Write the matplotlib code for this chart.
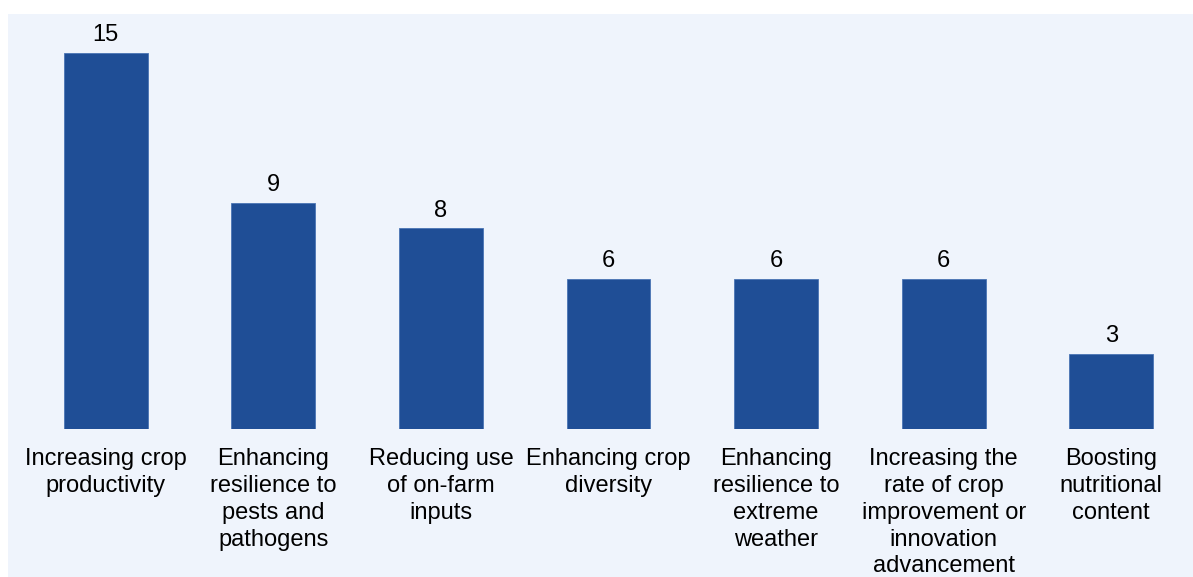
import matplotlib.pyplot as plt
from matplotlib.patches import Rectangle

categories = [
    "Increasing crop\nproductivity",
    "Enhancing\nresilience to\npests and\npathogens",
    "Reducing use\nof on-farm\ninputs",
    "Enhancing crop\ndiversity",
    "Enhancing\nresilience to\nextreme\nweather",
    "Increasing the\nrate of crop\nimprovement or\ninnovation\nadvancement",
    "Boosting\nnutritional\ncontent",
]
values = [15, 9, 8, 6, 6, 6, 3]

plt.rcParams['font.family'] = ['Liberation Sans', 'DejaVu Sans']

fig = plt.figure(figsize=(11.93, 5.77), dpi=100)
fig.patch.set_facecolor("white")
# light panel behind the chart
top = 1 - 14 / 577
fig.patches.append(Rectangle((8 / 1193, -0.05), 1.1, top + 0.05, transform=fig.transFigure,
                             facecolor="#EFF4FC", edgecolor="none", zorder=-5))

ax = fig.add_axes([22 / 1193, 148 / 577, 1173 / 1193, 0.695])
ax.set_facecolor("none")
x = list(range(len(values)))
bars = ax.bar(x, values, width=0.5, color="#1F4E96", edgecolor="#4A74B4", linewidth=0.6)
for b, v in zip(bars, values):
    ax.annotate(str(v), (b.get_x() + b.get_width() / 2, v), xytext=(0, 5),
                textcoords="offset points", ha="center", va="bottom", fontsize=17)

ax.set_xlim(-0.5, 6.5)
ax.set_ylim(0, 16)
ax.set_xticks(x)
ax.set_xticklabels(categories, fontsize=17, linespacing=1.28)
ax.tick_params(axis="x", length=0, pad=14)
ax.set_yticks([])
for s in ax.spines.values():
    s.set_visible(False)

fig.savefig("out.png", dpi=100)
